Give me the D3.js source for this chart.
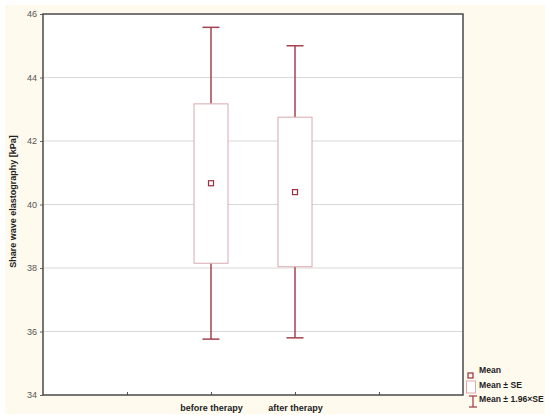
<!DOCTYPE html>
<html><head><meta charset="utf-8">
<script src="https://cdn.jsdelivr.net/npm/d3@7/dist/d3.min.js"></script>
<style>body{margin:0;background:#fff}svg{display:block}text{font-family:"Liberation Sans",Arial,sans-serif}</style>
</head><body><svg id="c" width="550" height="418"></svg>
<script>
const slots = ["s0", "before therapy", "after therapy", "s3"];
const groups = ["before therapy", "after therapy"];
const means = [40.67, 40.39];
const seLow = [38.15, 38.04];
const seHigh = [43.17, 42.75];
const ciLow = [35.76, 35.80];
const ciHigh = [45.58, 45.00];
const yTicks = [34, 36, 38, 40, 42, 44, 46];
const legendLabels = ["Mean", "Mean ± SE", "Mean ± 1.96×SE"];

const svg = d3.select("#c");
const m = {l: 43, t: 14, r: 463, b: 395};
const whiskerCol = "#a3434f", boxCol = "#d8a9af", meanCol = "#9b2f3b";

svg.append("rect").attr("x", 5).attr("y", 5).attr("width", 540).attr("height", 409).attr("fill", "#fffaee");
svg.append("rect").attr("x", m.l).attr("y", m.t).attr("width", m.r - m.l).attr("height", m.b - m.t).attr("fill", "#fff");

const y = d3.scaleLinear().domain([34, 46]).range([m.b, m.t]);
const x = d3.scalePoint().domain(slots).range([m.l, m.r]).padding(1);

svg.append("g").selectAll("line").data(yTicks.slice(1, -1)).join("line")
  .attr("x1", m.l).attr("x2", m.r).attr("y1", d => y(d)).attr("y2", d => y(d))
  .attr("stroke", "#d9d9d9").attr("stroke-width", 1);

const ya = svg.append("g").attr("transform", `translate(${m.l},0)`)
  .call(d3.axisLeft(y).tickValues(yTicks).tickSize(3).tickPadding(3).tickFormat(d3.format("d")));
ya.select(".domain").remove();
ya.selectAll(".tick line").attr("stroke", "#666");
ya.selectAll("text").attr("fill", "#555").attr("font-size", "9px");

const xa = svg.append("g").attr("transform", `translate(0,${m.b})`)
  .call(d3.axisBottom(x).tickSize(-3).tickPadding(10).tickFormat(d => groups.includes(d) ? d : ""));
xa.select(".domain").remove();
xa.selectAll(".tick line").attr("stroke", "#555");
xa.selectAll("text").attr("fill", "#222").attr("font-size", "9px").attr("font-weight", "bold");

svg.append("rect").attr("x", m.l).attr("y", m.t).attr("width", m.r - m.l).attr("height", m.b - m.t)
  .attr("fill", "none").attr("stroke", "#4a4a4a").attr("stroke-width", 1.5);

const bw = 34, cw = 17;
const g = svg.append("g");
groups.forEach((grp, i) => {
  const cx = x(grp);
  g.append("line").attr("x1", cx).attr("x2", cx).attr("y1", y(ciHigh[i])).attr("y2", y(seHigh[i])).attr("stroke", whiskerCol).attr("stroke-width", 1.5);
  g.append("line").attr("x1", cx).attr("x2", cx).attr("y1", y(seLow[i])).attr("y2", y(ciLow[i])).attr("stroke", whiskerCol).attr("stroke-width", 1.5);
  [ciHigh[i], ciLow[i]].forEach(v => g.append("line").attr("x1", cx - cw / 2).attr("x2", cx + cw / 2).attr("y1", y(v)).attr("y2", y(v)).attr("stroke", whiskerCol).attr("stroke-width", 1.5));
  g.append("rect").attr("x", cx - bw / 2).attr("y", y(seHigh[i])).attr("width", bw).attr("height", y(seLow[i]) - y(seHigh[i]))
    .attr("fill", "#fff").attr("stroke", boxCol).attr("stroke-width", 1);
  g.append("rect").attr("x", cx - 2.5).attr("y", y(means[i]) - 2.5).attr("width", 5).attr("height", 5)
    .attr("fill", "none").attr("stroke", meanCol).attr("stroke-width", 1.2);
});

svg.append("text").attr("transform", `translate(16,${(m.t + m.b) / 2 - 3}) rotate(-90)`).attr("text-anchor", "middle")
  .attr("font-size", "9px").attr("font-weight", "bold").attr("fill", "#222").text("Share wave elastography [kPa]");

const lg = svg.append("g");
lg.append("rect").attr("x", 468).attr("y", 373).attr("width", 5).attr("height", 5).attr("fill", "none").attr("stroke", meanCol).attr("stroke-width", 1.2);
lg.append("rect").attr("x", 466.5).attr("y", 381).attr("width", 9).attr("height", 12).attr("fill", "#fff").attr("stroke", boxCol);
lg.append("line").attr("x1", 473).attr("x2", 473).attr("y1", 396).attr("y2", 407).attr("stroke", whiskerCol).attr("stroke-width", 1.3);
lg.append("line").attr("x1", 469).attr("x2", 477).attr("y1", 396).attr("y2", 396).attr("stroke", whiskerCol).attr("stroke-width", 1.3);
lg.append("line").attr("x1", 469).attr("x2", 477).attr("y1", 407).attr("y2", 407).attr("stroke", whiskerCol).attr("stroke-width", 1.3);
lg.selectAll("text.l").data(legendLabels).join("text").attr("class", "l")
  .attr("x", 479).attr("y", (d, i) => 373 + i * 14.5).attr("font-size", "8.6px").attr("font-weight", "bold").attr("fill", "#222").text(d => d);
</script></body></html>
